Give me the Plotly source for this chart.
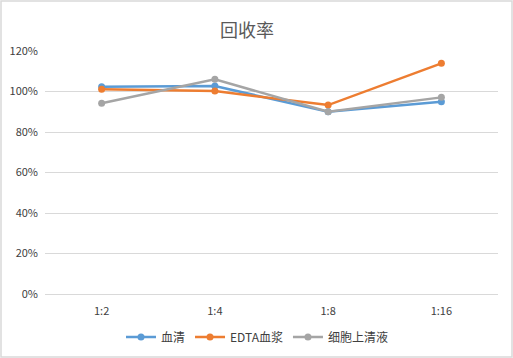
import plotly.graph_objects as go

categories = ["1:2", "1:4", "1:8", "1:16"]
serum = [1.024, 1.027, 0.90, 0.95]
edta_plasma = [1.011, 1.002, 0.933, 1.139]
cell_supernatant = [0.942, 1.06, 0.90, 0.971]
series_names = ["血清", "EDTA血浆", "细胞上清液"]
colors = ["#5B9BD5", "#ED7D31", "#A5A5A5"]
y_ticks = [0, 0.2, 0.4, 0.6, 0.8, 1.0, 1.2]

W, H = 513, 358
ml, mr, mt, mb = 45, 15, 51, 64
pw, ph = W - ml - mr, H - mt - mb

fig = go.Figure()
for name, vals, c in zip(series_names, [serum, edta_plasma, cell_supernatant], colors):
    fig.add_trace(go.Scatter(
        x=categories, y=vals, name=name, mode="lines+markers",
        line=dict(color=c, width=2.5), marker=dict(color=c, size=7),
    ))

fig.update_layout(
    width=W, height=H,
    margin=dict(l=ml, r=mr, t=mt, b=mb, autoexpand=False),
    paper_bgcolor="white", plot_bgcolor="white",
    font=dict(family="Noto Sans CJK SC, Liberation Sans, sans-serif", color="#595959", size=11),
    title=dict(text="回收率", x=(247 - ml) / pw, xref="paper", xanchor="center",
               y=1 - 31 / H, yanchor="middle",
               font=dict(size=18, color="#595959")),
    xaxis=dict(type="category", showgrid=False, showline=True, linecolor="#D9D9D9", linewidth=1,
               ticks="", tickfont=dict(size=11, color="#404040"), range=[-0.5, 3.5],
               ticklabelstandoff=7, automargin=False),
    yaxis=dict(range=[0, 1.2], tickvals=y_ticks, tickformat=".0%", showgrid=True,
               gridcolor="#D9D9D9", gridwidth=1, zeroline=False, showline=False, ticks="",
               tickfont=dict(size=11, color="#404040"), ticklabelstandoff=6,
               automargin=False),
    legend=dict(orientation="h", x=(257 - ml) / pw, xanchor="center", y=(H - mb - 337) / ph,
                yanchor="middle", font=dict(size=12, color="#404040"),
                tracegroupgap=0),
    showlegend=True,
    shapes=[dict(type="rect", xref="paper", yref="paper",
                 x0=(1 - ml) / pw, x1=(W - 1 - ml) / pw,
                 y0=-(mb - 1) / ph, y1=(ph + mt - 1) / ph,
                 line=dict(color="#D9D9D9", width=1.5), layer="below")],
)

fig.write_html("out.html", config={"displayModeBar": False},
               post_script="document.body.style.margin='0';")
